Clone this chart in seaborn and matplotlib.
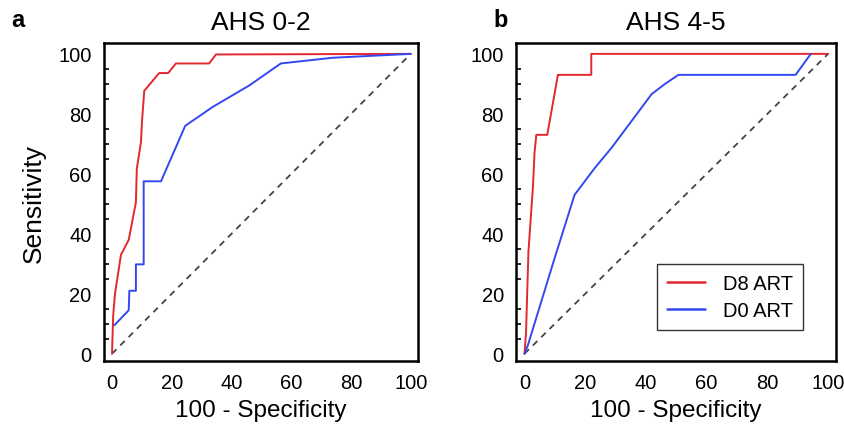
import numpy as np
import pandas as pd
import matplotlib
matplotlib.use("Agg")
import matplotlib.pyplot as plt
import seaborn as sns
from matplotlib.ticker import MultipleLocator

# --- ROC curve points (x = 100 - specificity, y = sensitivity) ---
a_d8_x = [0, 0.4, 1.0, 3.0, 5.6, 8.0, 8.3, 9.7, 10.0, 10.8, 15.8, 18.8, 21.4, 32.5, 34.8, 100]
a_d8_y = [0, 12.8, 20, 33, 38, 50.5, 61.7, 70.6, 77, 87.7, 93.6, 93.6, 96.8, 96.8, 99.8, 100]

a_d0_x = [0.8, 5.6, 5.8, 8.0, 8.0, 10.6, 10.6, 16.4, 24.5, 33.7, 46.0, 56.5, 73.8, 96.0, 100]
a_d0_y = [9.5, 14.5, 21, 21, 29.8, 29.8, 57.5, 57.5, 76, 82.3, 89.5, 96.8, 98.7, 99.8, 100]

b_d8_x = [0, 0.5, 1.3, 2.8, 3.3, 3.9, 7.5, 8.8, 11.0, 22.0, 22.0, 100]
b_d8_y = [0, 7, 34, 56, 67, 73, 73, 80.4, 93, 93, 100, 100]

b_d0_x = [0, 1.1, 9.9, 16.5, 23.2, 28.7, 41.9, 46.3, 50.7, 89.3, 94.3]
b_d0_y = [0, 2.8, 31.8, 53, 62, 68.7, 86.6, 90, 93, 93, 100]

panels = [("a", "AHS 0-2"), ("b", "AHS 4-5")]
series_names = ["D8 ART", "D0 ART"]
ticks = [0, 20, 40, 60, 80, 100]


def make_df(d8x, d8y, d0x, d0y):
    df8 = pd.DataFrame({"x": d8x, "y": d8y, "Group": series_names[0]})
    df0 = pd.DataFrame({"x": d0x, "y": d0y, "Group": series_names[1]})
    return pd.concat([df8, df0], ignore_index=True)


data = [make_df(a_d8_x, a_d8_y, a_d0_x, a_d0_y),
        make_df(b_d8_x, b_d8_y, b_d0_x, b_d0_y)]

sns.set_style("white")
plt.rcParams["font.family"] = ["Liberation Sans", "DejaVu Sans"]
for key in ["text.color", "axes.labelcolor", "xtick.color", "ytick.color"]:
    plt.rcParams[key] = "black"

palette = {"D8 ART": "#e3282e", "D0 ART": "#3348f0"}

fig = plt.figure(figsize=(8.45, 4.35), dpi=100)
axes = [fig.add_axes([0.123, 0.168, 0.372, 0.730]),
        fig.add_axes([0.611, 0.168, 0.378, 0.730])]

for i, ax in enumerate(axes):
    df = data[i]
    ax.plot([0, 100], [0, 100], linestyle=(0, (3.5, 3)), color="#444444", lw=1.3)
    sns.lineplot(data=df, x="x", y="y", hue="Group", palette=palette, sort=False,
                 estimator=None, units="Group", ax=ax, lw=1.4, legend=(i == 1))

    ax.set_xlim(-2.7, 102.5)
    ax.set_ylim(-2.4, 103.5)
    ax.set_xticks(ticks)
    ax.set_yticks(ticks)
    ax.yaxis.set_minor_locator(MultipleLocator(5))
    ax.tick_params(axis="both", which="major", direction="in", length=6, width=1.6,
                   labelsize=14.5, pad=9)
    ax.tick_params(axis="y", which="minor", direction="in", length=3.5, width=1.2, left=True)
    for sp in ax.spines.values():
        sp.set_visible(True)
        sp.set_color("black")
        sp.set_linewidth(1.8)

    ax.set_xlabel("100 - Specificity", fontsize=17.5, labelpad=5)
    ax.set_ylabel("Sensitivity" if i == 0 else "", fontsize=19, labelpad=9)
    ax.set_title(panels[i][1], fontsize=19, pad=10)
    ax.text(-0.295 if i == 0 else -0.07, 1.075, panels[i][0], transform=ax.transAxes,
            fontsize=17, fontweight="bold", ha="left", va="center")

leg = axes[1].get_legend()
if leg is not None:
    leg.remove()
handles, labels = axes[1].get_legend_handles_labels()
legend = axes[1].legend(handles, labels, loc="lower right", bbox_to_anchor=(0.93, 0.065),
                        fontsize=14.5, frameon=True, fancybox=False, handlelength=1.9,
                        borderpad=0.5, labelspacing=0.4, handletextpad=0.9)
legend.get_frame().set_edgecolor("black")
legend.get_frame().set_linewidth(1.0)
for ln in legend.get_lines():
    ln.set_linewidth(1.8)

fig.savefig("out.png", dpi=100)
